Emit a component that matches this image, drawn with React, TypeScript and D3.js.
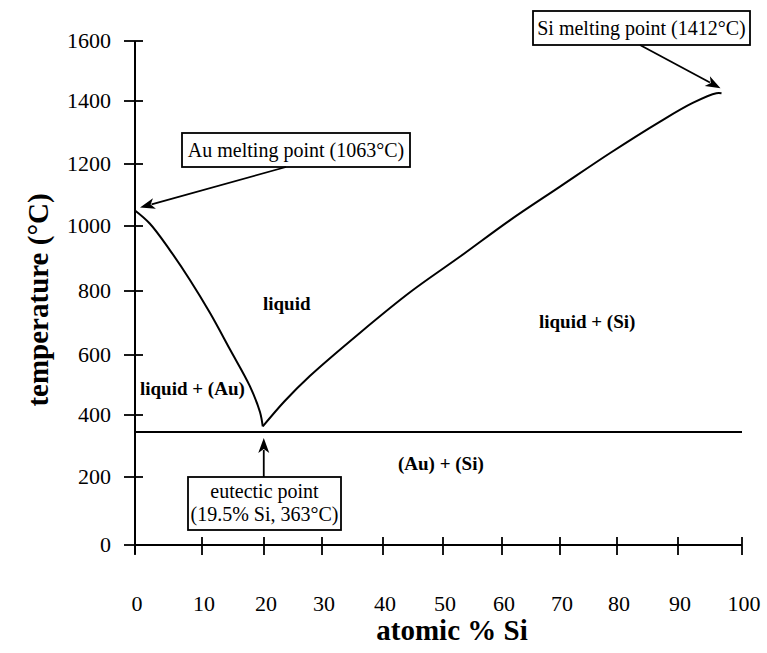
import React from "react";
import * as d3 from "d3";

// ---------- data ----------
const xTicks = [0, 10, 20, 30, 40, 50, 60, 70, 80, 90, 100];
const yTicks = [0, 200, 400, 600, 800, 1000, 1200, 1400, 1600];

// liquidus, Au-rich branch (atomic % Si, °C)
const auBranchX = [0, 2.2, 5.2, 8.2, 11.3, 14.5, 17.7, 19.35, 19.8];
const auBranchT = [1050, 1008, 926, 834, 731, 618, 497, 410, 363];

// liquidus, Si-rich branch
const siBranchX = [19.8, 23.5, 27.9, 36.2, 44.5, 52.9, 61.4, 70, 78.8, 87.0, 92.3, 96.0, 96.8];
const siBranchT = [363, 445, 530, 669, 796, 906, 1019, 1127, 1235, 1334, 1394, 1426, 1426];

// eutectic isotherm
const eutecticLineX = [0, 100];
const eutecticLineT = [345, 345];

const regionLabels = ["liquid", "liquid + (Si)", "liquid + (Au)", "(Au) + (Si)"];
const annotationTexts = [
  ["Au melting point (1063°C)"],
  ["Si melting point (1412°C)"],
  ["eutectic point", "(19.5% Si, 363°C)"],
];

// ---------- layout ----------
const W = 767;
const H = 653;
const xPix = [135, 202, 264, 322, 383, 443, 502, 560, 617, 678, 742];
const yPix = [545, 477, 415, 355, 291, 226, 164, 101, 41];
const FONT = "'Liberation Serif', 'Times New Roman', serif";

const x = d3.scaleLinear().domain(xTicks).range(xPix);
const y = d3.scaleLinear().domain(yTicks).range(yPix);

const line = d3
  .line<[number, number]>()
  .x((d) => x(d[0]))
  .y((d) => y(d[1]))
  .curve(d3.curveCatmullRom.alpha(0.5));

const zip = (a: number[], b: number[]) => a.map((v, i) => [v, b[i]] as [number, number]);

const regionPos = [
  { x: 263, y: 310 },
  { x: 539, y: 328 },
  { x: 140, y: 395 },
  { x: 398, y: 470 },
];

function Arrow({ x1, y1, x2, y2 }: { x1: number; y1: number; x2: number; y2: number }) {
  const ang = Math.atan2(y2 - y1, x2 - x1);
  const len = 15;
  const half = 5.5;
  const bx = x2 - len * Math.cos(ang);
  const by = y2 - len * Math.sin(ang);
  const px = -Math.sin(ang) * half;
  const py = Math.cos(ang) * half;
  return (
    <g>
      <line x1={x1} y1={y1} x2={bx + 3 * Math.cos(ang)} y2={by + 3 * Math.sin(ang)} stroke="#000" strokeWidth={1.8} />
      <path d={`M${x2},${y2}L${bx + px},${by + py}L${bx + 4 * Math.cos(ang)},${by + 4 * Math.sin(ang)}L${bx - px},${by - py}Z`} fill="#000" />
    </g>
  );
}

export default function App() {
  const auTarget = { x: x(auBranchX[0]) + 5, y: y(auBranchT[0]) - 3 };
  const siEnd = siBranchX.length - 1;
  const siTarget = { x: x(siBranchX[siEnd]) - 1, y: y(siBranchT[siEnd]) - 5 };
  const euTarget = { x: x(auBranchX[auBranchX.length - 1]) + 1, y: y(eutecticLineT[0]) + 6 };

  const boxes = [
    { x: 182, y: 133, w: 228, h: 34 },
    { x: 533, y: 11, w: 217, h: 34 },
    { x: 188, y: 477, w: 153, h: 53 },
  ];

  return (
    <svg width={W} height={H} style={{ position: "absolute", left: 0, top: 0, background: "#fff" }} fontFamily={FONT}>
      <rect width={W} height={H} fill="#fff" />
      {/* axes */}
      <line x1={x(0)} y1={y(1600)} x2={x(0)} y2={y(0) + 9} stroke="#000" strokeWidth={2} />
      <line x1={x(0)} y1={y(0)} x2={x(100)} y2={y(0)} stroke="#000" strokeWidth={2} />
      {yTicks.map((t) => (
        <g key={"yt" + t}>
          <line x1={x(0) - 11} x2={x(0) + 8} y1={y(t)} y2={y(t)} stroke="#000" strokeWidth={1.8} />
          <text x={111} y={y(t)} dy="0.34em" textAnchor="end" fontSize={22}>
            {t}
          </text>
        </g>
      ))}
      {xTicks.map((t) => (
        <g key={"xt" + t}>
          <line x1={x(t)} x2={x(t)} y1={y(0) - 8} y2={y(0) + 10} stroke="#000" strokeWidth={1.8} />
          <text x={x(t) + 2} y={611} textAnchor="middle" fontSize={22}>
            {t}
          </text>
        </g>
      ))}
      <text x={452} y={640} textAnchor="middle" fontSize={29} fontWeight="bold">
        atomic % Si
      </text>
      <text transform="translate(48,300) rotate(-90)" textAnchor="middle" fontSize={29} fontWeight="bold">
        temperature (°C)
      </text>

      {/* phase boundaries */}
      <path d={line(zip(auBranchX, auBranchT)) || ""} fill="none" stroke="#000" strokeWidth={2} />
      <path d={line(zip(siBranchX, siBranchT)) || ""} fill="none" stroke="#000" strokeWidth={2} />
      <path d={line(zip(eutecticLineX, eutecticLineT)) || ""} fill="none" stroke="#000" strokeWidth={2} />

      {/* region labels */}
      {regionLabels.map((s, i) => (
        <text key={s} x={regionPos[i].x} y={regionPos[i].y} fontSize={19} fontWeight="bold">
          {s}
        </text>
      ))}

      {/* annotations */}
      {boxes.map((b, i) => (
        <g key={"box" + i}>
          <rect x={b.x} y={b.y} width={b.w} height={b.h} fill="#fff" stroke="#000" strokeWidth={1.8} />
          {annotationTexts[i].map((s, j) => (
            <text
              key={j}
              x={b.x + b.w / 2}
              y={b.y + (annotationTexts[i].length === 1 ? b.h / 2 : 14 + j * 23)}
              dy="0.35em"
              textAnchor="middle"
              fontSize={20}
            >
              {s}
            </text>
          ))}
        </g>
      ))}
      <Arrow x1={286} y1={167} x2={auTarget.x} y2={auTarget.y} />
      <Arrow x1={640} y1={45} x2={siTarget.x} y2={siTarget.y} />
      <Arrow x1={euTarget.x} y1={477} x2={euTarget.x} y2={euTarget.y} />
    </svg>
  );
}
